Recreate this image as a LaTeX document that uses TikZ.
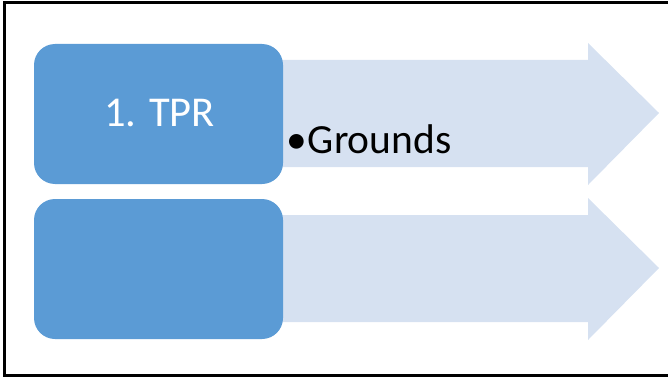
\documentclass[tikz,border=0pt]{standalone}
\usepackage{fontspec}
\setmainfont{Carlito}
\begin{document}
\begin{tikzpicture}[x=1pt,y=-1pt,
  stepbox/.style={fill=boxblue,rounded corners=21pt,draw=none},
  chevron/.style={fill=arrowblue,draw=none},
  frameline/.style={draw=black,line width=3pt,line cap=rect}]
\definecolor{boxblue}{HTML}{5B9BD5}
\definecolor{arrowblue}{HTML}{D6E1F1}
\useasboundingbox (0,0) rectangle (668,377);
% frame (open on the right)
\draw[frameline] (668,3) -- (4.5,3) -- (4.5,375.5) -- (668,375.5);
% arrows behind the boxes
\path[chevron] (200,60) -- (588,60) -- (588,43) -- (659,113) -- (588,185) -- (588,167) -- (200,167) -- cycle;
\path[chevron] (200,215) -- (588,215) -- (588,198) -- (659,268) -- (588,340) -- (588,322) -- (200,322) -- cycle;
% boxes
\path[stepbox] (34,44) rectangle (283,184);
\path[stepbox] (34,199) rectangle (283,339);
\node[anchor=base,text=white,font=\fontsize{42.5}{46}\selectfont,inner sep=0pt] (box1) at (159.5,126) {1. TPR};
\node[anchor=base west,font=\fontsize{41.5}{45}\selectfont,inner sep=0pt] (ground) at (286,153) {•\kern1pt Grounds};
\end{tikzpicture}
\end{document}
